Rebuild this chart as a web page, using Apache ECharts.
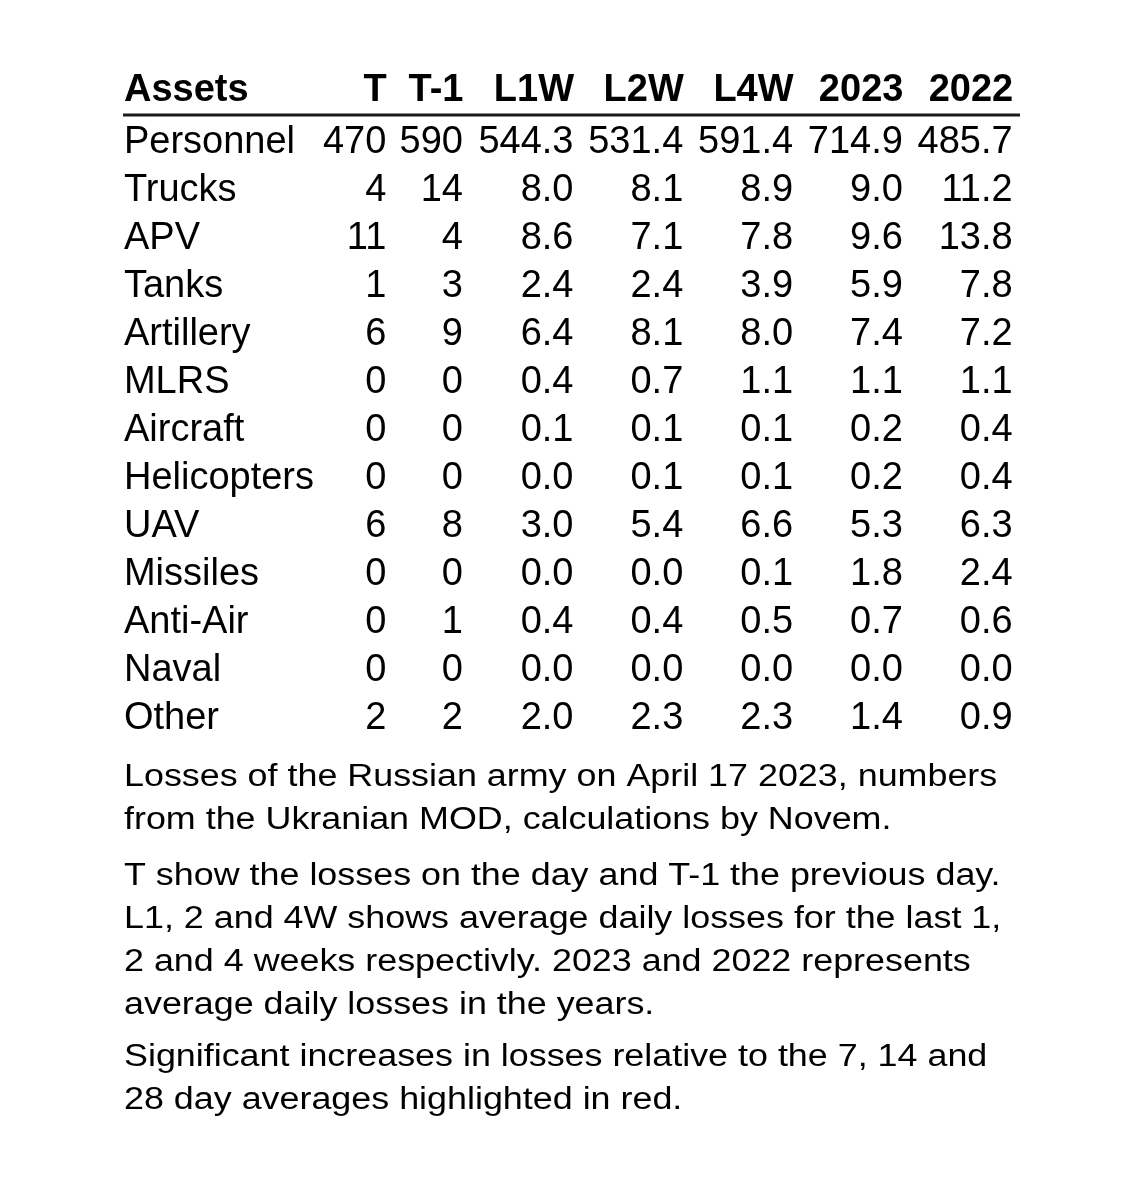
<!DOCTYPE html>
<html>
<head>
<meta charset="utf-8">
<title>Russian army losses</title>
<script src="https://cdn.jsdelivr.net/npm/echarts@6/dist/echarts.min.js"></script>
<style>
	html, body { margin: 0; padding: 0; background: #fff; }
	#chart { width: 1140px; height: 1182px; }
</style>
</head>
<body>
<div id="chart"></div>
<script type="text/javascript">
	// rows and columns of the table
	var assets = ['Personnel', 'Trucks', 'APV', 'Tanks', 'Artillery', 'MLRS', 'Aircraft',
		'Helicopters', 'UAV', 'Missiles', 'Anti-Air', 'Naval', 'Other'];
	var dayCols = ['T', 'T-1'];
	var avgCols = ['L1W', 'L2W', 'L4W', '2023', '2022'];

	// daily losses
	var lossT  = [470, 4, 11, 1, 6, 0, 0, 0, 6, 0, 0, 0, 2];
	var lossT1 = [590, 14, 4, 3, 9, 0, 0, 0, 8, 0, 1, 0, 2];
	// average daily losses
	var avgL1W  = [544.3, 8.0, 8.6, 2.4, 6.4, 0.4, 0.1, 0.0, 3.0, 0.0, 0.4, 0.0, 2.0];
	var avgL2W  = [531.4, 8.1, 7.1, 2.4, 8.1, 0.7, 0.1, 0.1, 5.4, 0.0, 0.4, 0.0, 2.3];
	var avgL4W  = [591.4, 8.9, 7.8, 3.9, 8.0, 1.1, 0.1, 0.1, 6.6, 0.1, 0.5, 0.0, 2.3];
	var avg2023 = [714.9, 9.0, 9.6, 5.9, 7.4, 1.1, 0.2, 0.2, 5.3, 1.8, 0.7, 0.0, 1.4];
	var avg2022 = [485.7, 11.2, 13.8, 7.8, 7.2, 1.1, 0.4, 0.4, 6.3, 2.4, 0.6, 0.0, 0.9];

	var notes = [
		'Losses of the Russian army on April 17 2023, numbers\nfrom the Ukranian MOD, calculations by Novem.',
		'T show the losses on the day and T-1 the previous day.\nL1, 2 and 4W shows average daily losses for the last 1,\n2 and 4 weeks respectivly. 2023 and 2022 represents\naverage daily losses in the years.',
		'Significant increases in losses relative to the 7, 14 and\n28 day averages highlighted in red.'
	];

	var FONT = '"Liberation Sans", Arial, Helvetica, sans-serif';

	function cells(col, values, digits) {
		return values.map(function (v, i) {
			return { value: [col, assets[i]], text: v.toFixed(digits) };
		});
	}

	function cellSeries(xIdx, data) {
		return {
			type: 'scatter',
			xAxisIndex: xIdx,
			yAxisIndex: xIdx,
			symbolSize: 1,
			itemStyle: { color: 'rgba(0,0,0,0)', opacity: 1 },
			silent: true,
			label: {
				show: true,
				position: 'left',
				distance: 0,
				opacity: 1,
				fontFamily: FONT,
				fontSize: 38,
				color: '#000',
				formatter: function (p) { return p.data.text; }
			},
			data: data
		};
	}

	var hiddenAxis = {
		axisLine: { show: false },
		axisTick: { show: false },
		splitLine: { show: false }
	};

	function xAxisFor(grid, cols) {
		return Object.assign({
			type: 'category',
			gridIndex: grid,
			position: 'top',
			data: cols,
			axisLabel: {
				interval: 0,
				align: 'right',
				verticalAlign: 'middle',
				margin: 28,
				fontFamily: FONT,
				fontSize: 38,
				fontWeight: 'bold',
				color: '#000'
			}
		}, hiddenAxis);
	}

	function yAxisFor(grid, showNames) {
		return Object.assign({
			type: 'category',
			gridIndex: grid,
			inverse: true,
			data: assets,
			axisLabel: {
				show: showNames,
				interval: 0,
				align: 'left',
				margin: 224.5,
				fontFamily: FONT,
				fontSize: 38,
				color: '#000'
			}
		}, hiddenAxis);
	}

	var series = [];
	series.push(cellSeries(0, cells('T', lossT, 0).concat(cells('T-1', lossT1, 0))));
	series.push(cellSeries(1, [].concat(
		cells('L1W', avgL1W, 1),
		cells('L2W', avgL2W, 1),
		cells('L4W', avgL4W, 1),
		cells('2023', avg2023, 1),
		cells('2022', avg2022, 1)
	)));

	var noteTops = [755.8, 855, 1035.5];
	var graphics = [
		{
			type: 'text', x: 124, y: 90.5,
			style: { text: 'Assets', font: 'bold 38px ' + FONT, fill: '#000',
				textAlign: 'left', align: 'left', textVerticalAlign: 'middle', verticalAlign: 'middle' }
		},
		{
			type: 'line',
			shape: { x1: 123, y1: 115, x2: 1020, y2: 115 },
			style: { stroke: '#1a1a1a', lineWidth: 3 }
		}
	];
	notes.forEach(function (t, i) {
		graphics.push({
			type: 'text',
			x: 124, y: noteTops[i],
			scaleX: 1.157,
			style: { text: t, font: '31px ' + FONT, fill: '#000', lineHeight: 43,
				textAlign: 'left', align: 'left', textVerticalAlign: 'top', verticalAlign: 'top' }
		});
	});

	var option = {
		backgroundColor: '#fff',
		animation: false,
		grid: [
			{ left: 348.45, top: 119, width: 153.4, height: 623 },
			{ left: 519.1, top: 119, width: 549, height: 623 }
		],
		xAxis: [xAxisFor(0, dayCols), xAxisFor(1, avgCols)],
		yAxis: [yAxisFor(0, true), yAxisFor(1, false)],
		series: series,
		graphic: graphics
	};

	var chart = echarts.init(document.getElementById('chart'));
	chart.setOption(option);
</script>
</body>
</html>
